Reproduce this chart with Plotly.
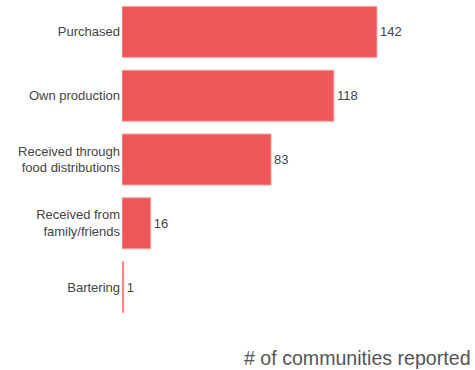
import plotly.graph_objects as go

categories = ["Purchased", "Own production", "Received through<br>food distributions",
              "Received from<br>family/friends", "Bartering"]
values = [142, 118, 83, 16, 1]

fig = go.Figure(go.Bar(
    x=values, y=categories, orientation="h",
    marker=dict(color="#EF5858", line=dict(color="#F9A3A3", width=1)),
    text=[str(v) for v in values], textposition="outside",
    textfont=dict(color="#444444", size=13, family="Liberation Sans, Arial, sans-serif"),
    cliponaxis=False,
))

fig.update_layout(
    width=475, height=370,
    margin=dict(l=122, r=5, t=0, b=51),
    paper_bgcolor="white", plot_bgcolor="white",
    bargap=0.2, showlegend=False,
    font=dict(family="Liberation Sans, Arial, sans-serif", size=13, color="#444444"),
    xaxis=dict(range=[0, 193.8], showgrid=False, zeroline=False, showticklabels=False,
               showline=False, ticks=""),
    yaxis=dict(autorange="reversed", showgrid=False, zeroline=False, showline=False,
               ticks="", ticklabelstandoff=1),
    annotations=[dict(text="# of communities reported", xref="paper", yref="paper",
                      x=1, y=0, xanchor="right", yanchor="top", yshift=-26, xshift=3,
                      showarrow=False, font=dict(size=19.6, color="#555555"))],
)

fig.write_html("out.html", config={"displayModeBar": False},
               post_script="document.body.style.margin='0';document.body.style.padding='0';")
